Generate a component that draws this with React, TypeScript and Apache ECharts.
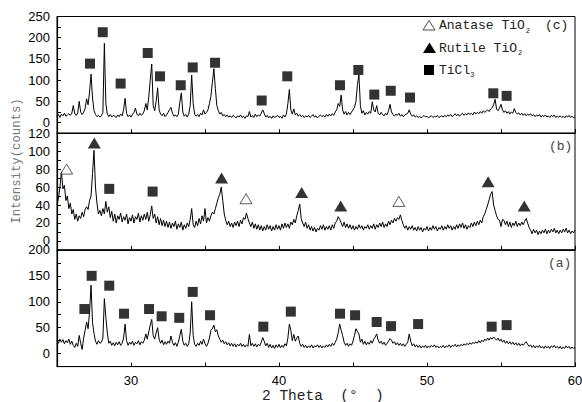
import React, { useEffect, useRef } from "react";
import * as echarts from "echarts";

// 2θ grid of the scans
const THETA_START = 25;
const THETA_STEP = 0.1;

// (c) pattern, 25.0° … 60.0°
const intensityC = [
  14,19,12,20,16,22,15,18,21,17,
  22,40,21,17,23,50,25,19,24,33,
  56,42,72,114,58,28,19,14,17,13,
  16,24,187,45,20,14,19,13,17,15,
  12,18,14,20,16,30,57,22,14,18,
  13,19,24,34,20,16,22,17,21,28,
  45,30,60,100,138,40,28,50,82,30,
  20,16,22,14,18,24,30,36,22,15,
  18,14,20,48,70,25,15,19,13,20,
  40,112,45,20,15,19,14,22,18,30,
  20,24,30,45,62,95,127,80,40,28,
  20,24,16,19,14,18,13,16,12,17,
  14,11,16,13,18,12,15,10,16,14,
  26,13,17,12,20,14,18,15,22,30,
  22,13,17,11,15,10,16,12,14,17,
  12,15,10,18,13,20,45,78,30,20,
  32,18,22,15,19,14,17,12,16,13,
  17,12,15,19,13,16,11,15,18,14,
  17,13,19,15,20,16,21,17,25,30,
  45,38,65,30,20,26,18,24,19,25,
  30,36,50,90,112,40,22,28,18,24,
  20,26,22,49,30,25,40,22,18,24,
  19,16,22,18,28,43,25,19,15,20,
  17,22,15,19,14,18,20,22,30,20,
  15,18,13,16,12,15,11,14,17,13,
  15,11,14,16,12,15,13,17,12,14,
  16,13,17,14,18,15,19,14,17,21,
  16,20,15,19,22,17,21,18,23,19,
  22,18,25,20,24,21,26,22,28,24,
  27,30,26,32,35,42,55,32,28,34,
  43,30,24,28,22,26,20,25,22,33,
  24,20,23,18,22,17,21,16,20,17,
  21,16,19,14,18,15,19,13,17,14,
  18,13,16,12,17,14,18,12,15,13,
  16,12,15,11,16,13,17,12,15,11,
  14,
];

// (b) pattern
const intensityB = [
  40,48,60,77,58,62,45,50,36,42,
  30,35,24,30,22,28,25,32,27,35,
  38,35,45,50,75,101,60,42,30,34,
  28,36,30,44,32,38,26,33,22,30,
  20,28,24,31,21,27,23,30,19,26,
  22,29,20,27,24,31,21,28,23,30,
  24,32,22,29,39,25,30,20,27,18,
  25,17,23,16,22,15,21,14,20,16,
  22,13,19,15,21,12,18,14,20,16,
  24,36,18,15,22,17,25,19,28,22,
  36,20,26,22,28,32,30,36,42,48,
  52,60,45,30,23,18,22,16,20,15,
  21,17,22,16,23,19,26,24,31,25,
  20,16,21,14,19,13,18,12,17,11,
  16,12,18,13,17,11,16,12,18,13,
  17,12,19,14,20,15,19,14,21,18,
  24,20,28,34,41,25,20,16,21,14,
  18,12,16,11,15,10,14,12,17,13,
  18,12,16,13,17,12,18,14,20,22,
  27,24,20,16,21,15,19,14,18,13,
  17,12,16,13,18,14,17,12,16,14,
  18,13,17,14,19,13,18,15,20,16,
  21,15,19,16,22,18,23,20,25,22,
  26,24,29,23,18,14,17,12,16,13,
  17,12,15,11,16,12,15,10,14,12,
  16,11,15,12,17,13,16,11,15,13,
  17,12,16,13,18,14,17,12,16,13,
  18,14,19,15,20,14,18,13,17,15,
  20,16,21,17,22,18,23,20,27,30,
  35,40,46,52,55,40,34,28,24,23,
  16,24,23,18,22,16,21,15,20,17,
  22,16,20,17,21,18,22,25,20,15,
  12,8,13,9,12,7,11,8,12,9,
  13,8,12,9,13,10,14,9,12,8,
  12,9,13,10,14,9,12,8,11,9,
  12,
];

// (a) pattern
const intensityA = [
  26,20,28,22,27,19,25,21,28,18,
  24,16,12,20,14,35,20,8,30,45,
  61,48,80,132,60,39,24,18,25,20,
  22,30,106,70,40,20,24,16,21,15,
  22,17,23,16,20,30,57,25,16,22,
  18,24,16,22,19,25,17,23,20,26,
  38,28,42,55,66,35,28,40,50,28,
  20,26,17,23,18,24,20,34,22,16,
  21,14,22,35,47,24,16,20,14,19,
  40,100,35,18,14,20,16,24,18,28,
  19,14,20,30,45,48,55,42,46,34,
  28,22,26,19,23,17,21,15,20,14,
  19,13,18,15,20,14,18,13,17,14,
  37,15,20,14,19,13,18,15,22,31,
  24,15,20,12,18,11,16,10,17,12,
  18,11,16,12,19,15,30,57,45,25,
  37,24,30,34,20,14,18,12,16,11,
  15,12,17,11,15,13,17,12,16,11,
  15,12,17,13,18,14,20,16,22,28,
  40,57,45,35,22,16,20,14,19,16,
  24,35,48,42,38,22,28,18,24,17,
  22,18,25,20,28,32,38,26,20,24,
  18,22,16,20,24,29,26,20,23,17,
  21,16,20,15,19,14,18,22,38,24,
  15,19,13,17,12,16,11,15,12,16,
  11,15,12,16,13,17,12,15,11,14,
  12,16,11,15,13,17,12,16,14,18,
  13,17,14,18,15,19,16,20,17,21,
  18,22,19,23,20,25,21,26,23,28,
  25,30,26,31,28,32,29,26,30,24,
  28,22,26,20,24,19,23,18,22,17,
  21,16,20,15,19,16,20,23,18,14,
  17,12,16,11,15,12,16,11,14,10,
  15,11,14,10,15,12,16,11,14,10,
  14,9,13,10,15,11,14,9,13,10,
  12,
];

// peak markers [2θ, intensity]
const ticl3C = [[27.23,139],[28.09,213],[29.3,92],[31.13,164],[31.96,109],[33.36,88],[34.17,130],[35.68,141],[38.83,52],[40.56,109],[44.12,88],[45.36,124],[46.44,66],[47.55,75],[48.85,59],[54.48,69],[55.38,63]];
const rutileB = [[27.52,109],[36.12,70],[41.53,54],[44.17,39],[54.13,66],[56.57,39]];
const anataseB = [[25.65,80],[37.77,47],[48.1,44]];
const ticl3B = [[28.53,58],[31.46,55]];
const ticl3A = [[26.85,86],[27.34,150],[28.53,131],[29.53,77],[31.22,86],[32.07,72],[33.26,69],[34.17,119],[35.34,74],[38.94,52],[40.8,81],[44.12,77],[45.14,74],[46.6,61],[47.57,53],[49.4,57],[54.37,52],[55.38,55]];

// axes
const X_MIN = 25, X_MAX = 60, X_INTERVAL = 5;
const Y_RANGES = [
  { min: -25, max: 250, interval: 25, labelStep: 50 }, // (c)
  { min: -10, max: 120, interval: 10, labelStep: 20 }, // (b)
  { min: -25, max: 200, interval: 25, labelStep: 50 }, // (a)
];

const toPairs = (arr: number[]) =>
  arr.map((v, i) => [Number((THETA_START + i * THETA_STEP).toFixed(2)), v]);

export default function App() {
  const ref = useRef<HTMLDivElement>(null);
  useEffect(() => {
    document.body.style.margin = "0";
    if (!ref.current) return;
    const chart = echarts.init(ref.current, null, { renderer: "svg" });
    const mono = "Liberation Mono";
    const sans = "Liberation Sans";
    const tops = [16.5, 133.2, 249.9];
    const H = 116.7;
    const grids = tops.map((t) => ({
      left: 57, width: 518, top: t, height: H,
      show: true, borderColor: "#000", borderWidth: 1,
      containLabel: false, outerBoundsMode: "none",
    }));
    const xAxes = tops.map((_, i) => ({
      type: "value", gridIndex: i, min: X_MIN, max: X_MAX, interval: X_INTERVAL,
      axisLine: { show: true, onZero: false, lineStyle: { color: "#000", width: 1.2 } },
      axisTick: { show: true, inside: true, length: 4, lineStyle: { color: "#000" } },
      axisLabel: {
        show: i === 2, margin: 7, color: "#000", fontFamily: sans, fontSize: 13,
        formatter: (v: number) => (v % 10 === 0 ? String(v) : ""),
      },
      splitLine: { show: false },
    }));
    const yAxes = Y_RANGES.map((r, i) => ({
      type: "value", gridIndex: i, min: r.min, max: r.max, interval: r.interval,
      axisLine: { show: true, onZero: false, lineStyle: { color: "#000", width: 1.2 } },
      axisTick: { show: true, inside: true, length: 4, lineStyle: { color: "#000" } },
      axisLabel: {
        margin: 7, color: "#000", fontFamily: sans, fontSize: 13,
        formatter: (v: number) => (v % r.labelStep === 0 ? String(v) : ""),
      },
      splitLine: { show: false },
    }));
    const lineSeries = [intensityC, intensityB, intensityA].map((d, i) => ({
      type: "line", xAxisIndex: i, yAxisIndex: i, data: toPairs(d),
      showSymbol: false, symbol: "none", lineStyle: { color: "#000", width: 1 },
      z: 2,
    }));
    const sq = { symbol: "rect", symbolSize: [10, 10], itemStyle: { color: "#000" } };
    const tri = { symbol: "triangle", symbolSize: [13, 11], itemStyle: { color: "#000" } };
    const otri = {
      symbol: "triangle", symbolSize: [12, 10],
      itemStyle: { color: "#fff", borderColor: "#000", borderWidth: 0.8 },
    };
    const scatter = [
      { ...sq, data: ticl3C, xAxisIndex: 0, yAxisIndex: 0 },
      { ...tri, data: rutileB, xAxisIndex: 1, yAxisIndex: 1 },
      { ...otri, data: anataseB, xAxisIndex: 1, yAxisIndex: 1 },
      { ...sq, data: ticl3B, xAxisIndex: 1, yAxisIndex: 1 },
      { ...sq, data: ticl3A, xAxisIndex: 2, yAxisIndex: 2 },
    ].map((s) => ({ type: "scatter", z: 3, ...s }));

    const txt = (x: number, y: number, text: string, size: number, fill = "#222", align = "left") => ({
      type: "text", x, y, z: 10,
      style: { text, fill, fontFamily: mono, fontSize: size, align, verticalAlign: "middle" },
    });
    const pitch = 13 * 0.6;
    const lx = 439;
    const rows = [25.5, 48, 70];
    const graphic: any[] = [
      { type: "polygon", z: 10, shape: { points: [[429, rows[0] - 5], [435, rows[0] + 4.5], [423, rows[0] + 4.5]] }, style: { fill: "#fff", stroke: "#222", lineWidth: 0.8 } },
      { type: "polygon", z: 10, shape: { points: [[429.5, rows[1] - 5.5], [436, rows[1] + 5], [423, rows[1] + 5]] }, style: { fill: "#000" } },
      { type: "rect", z: 10, shape: { x: 424, y: rows[2] - 5, width: 10, height: 10 }, style: { fill: "#000" } },
      txt(lx, rows[0], "Anatase TiO", 13),
      txt(lx + 11 * pitch + 1, rows[0] + 5, "2", 7),
      txt(545, rows[0], "(c)", 13),
      txt(lx, rows[1], "Rutile TiO", 13),
      txt(lx + 10 * pitch + 1, rows[1] + 5, "2", 7),
      txt(lx, rows[2], "TiCl", 13),
      txt(lx + 4 * pitch, rows[2] + 5, "3", 7),
      txt(549, 146, "(b)", 13, "#444"),
      txt(548, 263, "(a)", 13, "#444"),
      txt(262, 395.5, "2 Theta  (°  )", 14.5, "#222"),
      {
        type: "text", x: 17, y: 161, rotation: Math.PI / 2, z: 10,
        style: { text: "Intensity(counts)", fill: "#777", fontFamily: mono, fontSize: 12.3, align: "center", verticalAlign: "middle" },
      },
    ];

    chart.setOption({
      animation: false,
      backgroundColor: "#fff",
      grid: grids,
      xAxis: xAxes,
      yAxis: yAxes,
      series: [...lineSeries, ...scatter],
      graphic,
    });
    return () => chart.dispose();
  }, []);
  return <div ref={ref} style={{ width: 582, height: 402 }} />;
}
